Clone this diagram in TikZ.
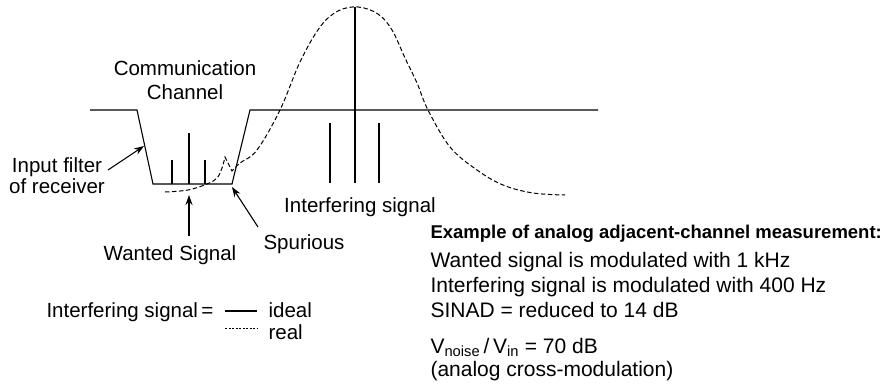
\documentclass[tikz,border=0pt]{standalone}
\usepackage{fontspec}
\setmainfont{Liberation Sans}
\usetikzlibrary{arrows.meta}
\begin{document}
\begin{tikzpicture}[x=1pt,y=-1pt,line width=1.1pt,
  lbl/.style={font=\fontsize{20.5}{24}\selectfont, inner sep=0pt},
  txt/.style={font=\fontsize{21}{25}\selectfont, inner sep=0pt},
  ttl/.style={font=\fontsize{18.5}{22}\selectfont\bfseries, inner sep=0pt},
  arr/.style={-{Stealth[length=10pt,width=7pt]}, line width=1.1pt},
  real/.style={dash pattern=on 4.5pt off 2.5pt, line width=1pt}]
\useasboundingbox (0,0) rectangle (890,385);
% filter characteristic
\draw (90,110) -- (137,110) -- (153,184) -- (232,184) -- (250,110) -- (598,110);
% wanted signal lines
\draw (172,184) -- (172,160);
\draw (189,184) -- (189,133);
\draw (205,184) -- (205,160);
% interfering signal lines
\draw (330,183) -- (330,123);
\draw (355,183) -- (355,7);
\draw (379,183) -- (379,123);
% real interfering signal
\draw[real] plot[smooth,tension=0.6] coordinates {(165,192) (188,190) (207,184) (217,178) (222,168) (225,157)}
  -- (232,171)
  -- plot[smooth,tension=0.6] coordinates {(232,171) (240,163) (257,150) (280,110) (300,62) (320,27) (338,11) (358,7) (378,14) (392,30) (405,58) (417,83) (428,110) (450,147) (477,170) (503,185) (533,193) (565,195)};
% labels
\node[lbl, align=center, anchor=north] (comm) at (185,60) {Communication\\Channel};
\node[lbl, align=center, anchor=north, font=\fontsize{20.5}{21}\selectfont] (inlbl) at (57,157) {Input filter\\of receiver};
\node[lbl, anchor=base] (wanted) at (170,260) {Wanted Signal};
\node[lbl, anchor=base] (spur) at (304,249) {Spurious};
\node[lbl, anchor=base] (intf) at (360,212) {Interfering signal};
% arrows
\coordinate (inA) at (108,170);
\coordinate (inB) at (144,146);
\coordinate (wA) at (189,236);
\coordinate (wB) at (189,195);
\coordinate (sA) at (258,227);
\coordinate (sB) at (232,187);
\draw[arr] (inA) -- (inB);
\draw[arr] (wA) -- (wB);
\draw[arr] (sA) -- (sB);
% example text
\node[ttl, anchor=base west] (ex) at (430,238) {Example of analog adjacent-channel measurement:};
\node[txt, anchor=base west] (l1) at (430,267) {Wanted signal is modulated with 1 kHz};
\node[txt, anchor=base west] (l2) at (430,292) {Interfering signal is modulated with 400 Hz};
\node[txt, anchor=base west] (l3) at (430,317) {SINAD = reduced to 14 dB};
\node[txt, anchor=base west] (l4) at (430,353) {V\textsubscript{noise}\,/\,V\textsubscript{in} = 70 dB};
\node[txt, anchor=base west] (l5) at (430,376) {(analog cross-modulation)};
% legend
\node[lbl, anchor=base east] (leg) at (214,317) {Interfering signal\,=};
\coordinate (lsA) at (225,311);
\coordinate (lsB) at (257,311);
\coordinate (ldA) at (225,328);
\coordinate (ldB) at (257,328);
\draw[line width=1.1pt] (lsA) -- (lsB);
\draw[dash pattern=on 2pt off 1.5pt, line width=0.9pt] (ldA) -- (ldB);
\node[lbl, anchor=base west] (ideal) at (268,317) {ideal};
\node[lbl, anchor=base west] (real) at (268,339) {real};
\end{tikzpicture}
\end{document}
